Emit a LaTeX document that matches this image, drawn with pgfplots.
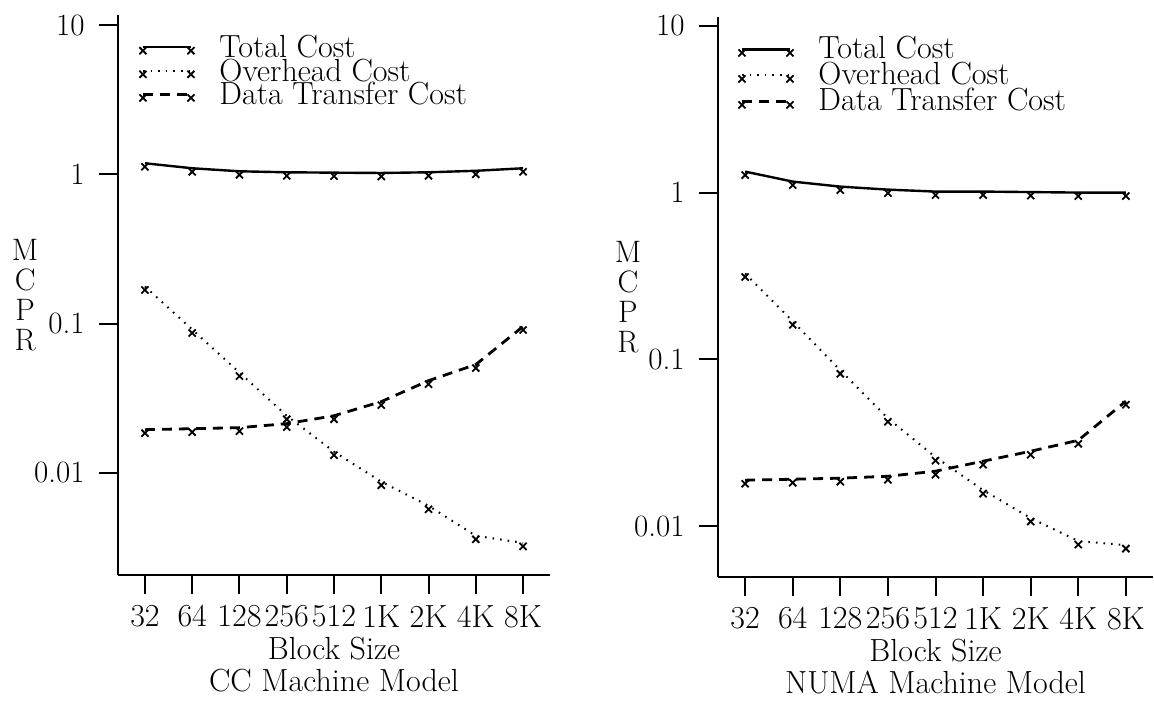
\documentclass[border=0pt]{standalone}
\usepackage{pgfplots}
\usepackage{pgfplotstable}
\pgfplotsset{compat=1.18}

\pgfplotstableread{
x total overhead transfer
0 1.185 0.177 0.01944
1 1.097 0.0912 0.01974
2 1.047 0.0469 0.02005
3 1.031 0.0241 0.02133
4 1.025 0.01384 0.0241
5 1.020 0.00871 0.02997
6 1.031 0.00601 0.0414
7 1.055 0.00378 0.0531
8 1.097 0.00339 0.0955
}\ccdata

\pgfplotstableread{
x total overhead transfer
0 1.336 0.327 0.01885
1 1.164 0.169 0.0191
2 1.086 0.0859 0.01938
3 1.042 0.0443 0.0199
4 1.014 0.0259 0.02134
5 1.014 0.01643 0.0245
6 1.007 0.01117 0.0281
7 1.000 0.00813 0.0327
8 1.000 0.00769 0.0561
}\numadata

\pgfplotsset{
  mcprstyle/.style={
    scale only axis,
    anchor=south west,
    axis lines=left,
    axis line style={-, line width=1.3pt},
    xmin=-0.57, xmax=8.57,
    xtick={0,1,2,3,4,5,6,7,8},
    xticklabels={32,64,128,256,512,1K,2K,4K,8K},
    ytick={0.01,0.1,1,10},
    yticklabels={0.01,0.1,1,10},
    yminorticks=false,
    tick align=outside,
    major tick length=9.5pt,
    every tick/.style={black, line width=1pt},
    xticklabel style={inner sep=3pt, yshift=-2.5pt, font=\fontsize{16}{17}\selectfont},
    yticklabel style={inner sep=3pt, xshift=-4pt, font=\fontsize{15.5}{17}\selectfont},
    xlabel style={at={(axis description cs:0.5,0)}, anchor=north, yshift=-27pt, align=center, font=\fontsize{16}{16}\selectfont, inner sep=4pt},
    ylabel={M\\C\\P\\R},
    ylabel style={rotate=-90, align=center, anchor=center, font=\fontsize{15.5}{15}\selectfont},
    legend cell align=left,
    legend image code/.code={\draw[##1] plot coordinates {(0pt,0pt) (24pt,0pt)};},
    legend style={draw=none, fill=none, inner sep=0pt, anchor=north west,
      row sep=0pt, column sep=12.5pt,
      nodes={inner sep=0pt, text height=11pt, text depth=0.8pt},
      font=\fontsize{16}{17}\selectfont},
  },
  totstyle/.style={black, line width=1.2pt, mark=x, mark size=2.5pt, mark options={solid, line width=0.9pt, yshift=-1.75pt}},
  ovstyle/.style={black, line width=1pt, dash pattern=on 0.8pt off 3pt, mark=x, mark size=2.5pt, mark options={solid, line width=0.9pt, yshift=-1.75pt}},
  trstyle/.style={black, line width=1.4pt, dash pattern=on 5pt off 3.5pt, mark=x, mark size=2.5pt, mark options={solid, line width=0.9pt, yshift=-1.75pt}},
}

\begin{document}
\begin{tikzpicture}[font=\fontsize{16}{17}\selectfont]
\path[use as bounding box] (0,0) rectangle (577pt,350.5pt);

\begin{axis}[ymode=log, mcprstyle,
  at={(59pt,63pt)}, width=216pt, height=280pt,
  ymin=0.002065, ymax=11.67,
  xlabel={Block Size\\CC Machine Model},
  ylabel style={at={(axis description cs:-0.215,0.5)}},
  legend style={at={(axis description cs:0.0486,0.9643)}},
]
\addplot[totstyle] table[x=x, y=total] {\ccdata};
\addlegendentry{Total Cost}
\addplot[ovstyle] table[x=x, y=overhead] {\ccdata};
\addlegendentry{Overhead Cost}
\addplot[trstyle] table[x=x, y=transfer] {\ccdata};
\addlegendentry{Data Transfer Cost}
\end{axis}

\begin{axis}[ymode=log, mcprstyle,
  at={(359pt,62pt)}, width=217.5pt, height=280pt,
  ymin=0.00495, ymax=11.3,
  xlabel={Block Size\\NUMA Machine Model},
  ylabel style={at={(axis description cs:-0.207,0.5)}},
  legend style={at={(axis description cs:0.046,0.966)},
    nodes={inner sep=0pt, text height=11pt, text depth=2pt}},
]
\addplot[totstyle] table[x=x, y=total] {\numadata};
\addlegendentry{Total Cost}
\addplot[ovstyle] table[x=x, y=overhead] {\numadata};
\addlegendentry{Overhead Cost}
\addplot[trstyle] table[x=x, y=transfer] {\numadata};
\addlegendentry{Data Transfer Cost}
\end{axis}
\end{tikzpicture}
\end{document}
